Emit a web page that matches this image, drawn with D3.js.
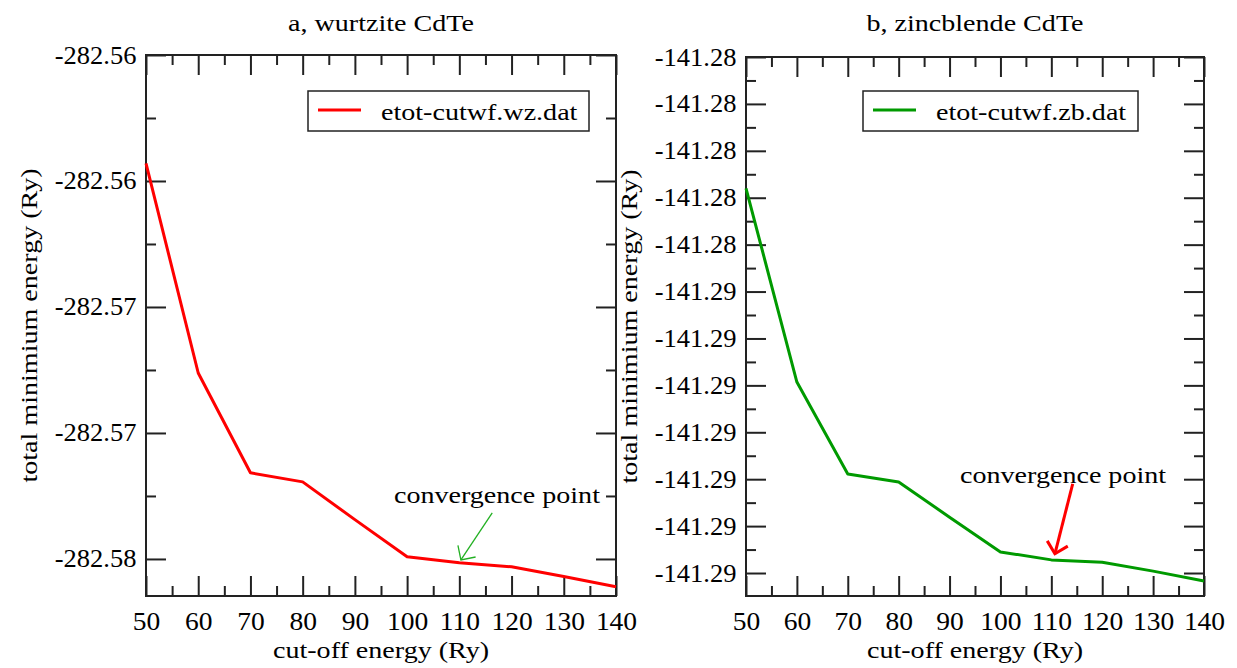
<!DOCTYPE html>
<html>
<head>
<meta charset="utf-8">
<script src="https://cdn.jsdelivr.net/npm/d3@7"></script>
<style>
  body { margin: 0; background: #fff; }
  svg text { font-family: "Liberation Serif", "Times New Roman", "DejaVu Serif", serif; }
</style>
</head>
<body>
<svg id="chart" width="1237" height="668"></svg>
<script>
// cut-off energy (Ry)
var cutoff = [50, 60, 70, 80, 90, 100, 110, 120, 130, 140];
// total minimum energy (Ry)
var etotWz = [-282.56430, -282.57262, -282.57658, -282.57694, -282.57844,
              -282.57991, -282.58015, -282.58031, -282.58070, -282.58110];
var etotZb = [-141.28280, -141.28693, -141.28889, -141.28906, -141.28981,
              -141.29055, -141.29072, -141.29077, -141.29096, -141.29117];

var xMajor = [50, 60, 70, 80, 90, 100, 110, 120, 130, 140];
var xMinor = [55, 65, 75, 85, 95, 105, 115, 125, 135];

var wzTicks = [-282.560, -282.565, -282.570, -282.575, -282.580];
var wzTickLabels = ["-282.56", "-282.56", "-282.57", "-282.57", "-282.58"];
var wzMinor = [-282.5625, -282.5675, -282.5725, -282.5775];

var zbTicks = [-141.280, -141.281, -141.282, -141.283, -141.284, -141.285,
               -141.286, -141.287, -141.288, -141.289, -141.290, -141.291];
var zbTickLabels = ["-141.28", "-141.28", "-141.28", "-141.28", "-141.28", "-141.29",
                    "-141.29", "-141.29", "-141.29", "-141.29", "-141.29", "-141.29"];
var zbMinor = [-141.2805, -141.2815, -141.2825, -141.2835, -141.2845, -141.2855,
               -141.2865, -141.2875, -141.2885, -141.2895, -141.2905];

// annotation: text anchor, arrow tail, arrow tip (data units)
var wzNote = [117.2, -282.57778];
var wzArrow = [[116.3, -282.57817], [110.3, -282.58004]];
var zbNote = [112.3, -141.28908];
var zbArrow = [[114.2, -141.28910], [110.7, -141.29059]];

var svg = d3.select("#chart");

function stretchText(sel, k) {
  sel.each(function() {
    var t = d3.select(this).attr("transform") || "";
    d3.select(this).attr("transform", t + " scale(" + k + ",1)");
  });
}

function drawPanel(p) {
  var g = svg.append("g").attr("class", p.name);
  var b = p.box;

  var x = d3.scaleLinear().domain([50, 140]).range([b.left, b.right]);
  var y = d3.scaleLinear().domain(p.yDomain).range([b.bottom, b.top]);

  function styleAxis(a) {
    a.select(".domain").remove();
    a.attr("font-family", null).attr("font-size", null);
    a.style("color", "#222");
    a.selectAll("line").attr("stroke-width", 2);
    a.selectAll("text")
      .attr("font-size", 25)
      .attr("fill", "#000");
  }

  // bottom: major with labels, then minor
  g.append("g")
    .attr("transform", "translate(0," + b.bottom + ")")
    .call(d3.axisBottom(x).tickValues(xMajor).tickSize(-20).tickSizeOuter(0)
            .tickPadding(16).tickFormat(d3.format("d")))
    .call(styleAxis)
    .selectAll("text").call(stretchText, 1.1);
  g.append("g")
    .attr("transform", "translate(0," + b.bottom + ")")
    .call(d3.axisBottom(x).tickValues(xMinor).tickSize(-10).tickSizeOuter(0).tickFormat(""))
    .call(styleAxis);

  // top
  g.append("g")
    .attr("transform", "translate(0," + b.top + ")")
    .call(d3.axisTop(x).tickValues(xMajor).tickSize(-20).tickSizeOuter(0).tickFormat(""))
    .call(styleAxis);
  g.append("g")
    .attr("transform", "translate(0," + b.top + ")")
    .call(d3.axisTop(x).tickValues(xMinor).tickSize(-10).tickSizeOuter(0).tickFormat(""))
    .call(styleAxis);

  // left: major with labels, then minor
  g.append("g")
    .attr("transform", "translate(" + b.left + ",0)")
    .call(d3.axisLeft(y).tickValues(p.yTicks).tickSize(-20).tickSizeOuter(0)
            .tickPadding(9).tickFormat(function(d, i) { return p.yLabels[i]; }))
    .call(styleAxis)
    .selectAll("text").call(stretchText, 1.06);
  g.append("g")
    .attr("transform", "translate(" + b.left + ",0)")
    .call(d3.axisLeft(y).tickValues(p.yMinor).tickSize(-10).tickSizeOuter(0).tickFormat(""))
    .call(styleAxis);

  // right
  g.append("g")
    .attr("transform", "translate(" + b.right + ",0)")
    .call(d3.axisRight(y).tickValues(p.yTicks).tickSize(-20).tickSizeOuter(0).tickFormat(""))
    .call(styleAxis);
  g.append("g")
    .attr("transform", "translate(" + b.right + ",0)")
    .call(d3.axisRight(y).tickValues(p.yMinor).tickSize(-10).tickSizeOuter(0).tickFormat(""))
    .call(styleAxis);

  // frame
  g.append("rect")
    .attr("x", b.left).attr("y", b.top)
    .attr("width", b.right - b.left).attr("height", b.bottom - b.top)
    .attr("fill", "none").attr("stroke", "#222").attr("stroke-width", 2);

  // data line
  g.append("path")
    .datum(d3.zip(cutoff, p.values))
    .attr("fill", "none")
    .attr("stroke", p.color)
    .attr("stroke-width", 3)
    .attr("stroke-linejoin", "round")
    .attr("d", d3.line().x(function(d) { return x(d[0]); })
                        .y(function(d) { return y(d[1]); }));

  // title and axis labels
  g.append("text")
    .attr("transform", "translate(" + (b.left + b.right) / 2 + ",31)")
    .attr("text-anchor", "middle")
    .attr("font-size", 24)
    .text(p.title)
    .call(stretchText, 1.17);

  g.append("text")
    .attr("transform", "translate(" + (b.left + b.right) / 2 + ",658)")
    .attr("text-anchor", "middle")
    .attr("font-size", 24)
    .text("cut-off energy (Ry)")
    .call(stretchText, 1.17);

  g.append("text")
    .attr("transform", "translate(" + p.yLabelX + "," + (b.top + b.bottom) / 2 + ") rotate(-90)")
    .attr("text-anchor", "middle")
    .attr("font-size", 24)
    .text("total minimium energy (Ry)")
    .call(stretchText, 1.17);

  // legend
  var lg = p.legend;
  g.append("rect")
    .attr("x", lg.x).attr("y", 91).attr("width", lg.w).attr("height", 40)
    .attr("fill", "#fff").attr("stroke", "#222").attr("stroke-width", 1.5);
  g.append("line")
    .attr("x1", lg.x + 10).attr("x2", lg.x + 53)
    .attr("y1", 110).attr("y2", 110)
    .attr("stroke", p.color).attr("stroke-width", 3);
  g.append("text")
    .attr("transform", "translate(" + (lg.x + 73) + ",120)")
    .attr("font-size", 24)
    .text(p.legendText)
    .call(stretchText, 1.17);

  // convergence note with arrow
  g.append("text")
    .attr("transform", "translate(" + x(p.note[0]) + "," + y(p.note[1]) + ")")
    .attr("text-anchor", "middle")
    .attr("font-size", 24)
    .text("convergence point")
    .call(stretchText, 1.17);

  var tail = [x(p.arrow[0][0]), y(p.arrow[0][1])];
  var tip = [x(p.arrow[1][0]), y(p.arrow[1][1])];
  var ang = Math.atan2(tail[1] - tip[1], tail[0] - tip[0]);
  var headLen = 15, spread = Math.PI / 4;
  var head = [
    [tip[0] + headLen * Math.cos(ang + spread), tip[1] + headLen * Math.sin(ang + spread)],
    tip,
    [tip[0] + headLen * Math.cos(ang - spread), tip[1] + headLen * Math.sin(ang - spread)]
  ];
  g.append("path")
    .attr("d", d3.line()([tail, tip]))
    .attr("stroke", p.arrowColor).attr("stroke-width", p.arrowWidth)
    .attr("fill", "none");
  g.append("path")
    .attr("d", d3.line()(head))
    .attr("stroke", p.arrowColor).attr("stroke-width", p.arrowWidth)
    .attr("fill", "none");
}

drawPanel({
  name: "wurtzite",
  box: { left: 146, right: 616, top: 55, bottom: 596 },
  yDomain: [-282.58147, -282.56],
  yTicks: wzTicks, yLabels: wzTickLabels, yMinor: wzMinor,
  values: etotWz, color: "#ff0000",
  title: "a, wurtzite CdTe",
  yLabelX: 37,
  legend: { x: 308, w: 281 }, legendText: "etot-cutwf.wz.dat",
  note: wzNote, arrow: wzArrow, arrowColor: "#22b022", arrowWidth: 1.3
});

drawPanel({
  name: "zincblende",
  box: { left: 746, right: 1204, top: 57, bottom: 596 },
  yDomain: [-141.29149, -141.28],
  yTicks: zbTicks, yLabels: zbTickLabels, yMinor: zbMinor,
  values: etotZb, color: "#009a00",
  title: "b, zincblende CdTe",
  yLabelX: 637,
  legend: { x: 863, w: 275 }, legendText: "etot-cutwf.zb.dat",
  note: zbNote, arrow: zbArrow, arrowColor: "#ff0000", arrowWidth: 3
});
</script>
</body>
</html>
